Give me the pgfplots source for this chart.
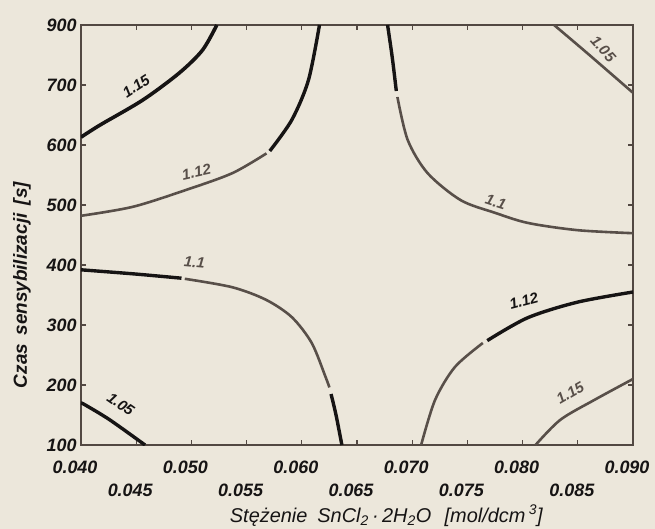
\documentclass[border=0pt]{standalone}
\usepackage{pgfplots}
\pgfplotsset{compat=1.18}
\usepackage{fontspec}
\setmainfont{Liberation Sans}
\definecolor{bg}{RGB}{236,231,219}
\definecolor{ln}{RGB}{88,79,73}
\definecolor{dk}{RGB}{22,20,20}
\definecolor{fr}{RGB}{82,72,66}
\begin{document}
\begin{tikzpicture}
\path[use as bounding box, fill=bg] (-81bp,-84bp) rectangle (574bp,445bp);
\begin{axis}[
  scale only axis, width=552bp, height=420bp,
  at={(0,0)}, anchor=south west,
  xmin=0.040, xmax=0.090, ymin=100, ymax=800,
  scaled x ticks=false, scaled y ticks=false,
  xtick={0.040,0.050,0.060,0.070,0.080,0.090},
  xticklabels={0.040,0.050,0.060,0.070,0.080,0.090},
  extra x ticks={0.045,0.055,0.065,0.075,0.085},
  extra x tick labels={0.045,0.055,0.065,0.075,0.085},
  extra x tick style={xticklabel style={yshift=-23bp}},
  ytick={100,200,300,400,500,600,700,800},
  yticklabels={100,200,300,400,500,600,700,900},
  tick align=inside, major tick length=5bp,
  tick style={fr, line width=1.2bp},
  axis line style={fr, line width=2.6bp},
  ticklabel style={font=\fontsize{18}{21}\selectfont\bfseries\itshape, text=dk},
  xticklabel style={yshift=-12bp, xshift=-6bp},
  yticklabel style={xshift=-1bp},
  xlabel={Stężenie\enspace SnCl\textsubscript{2}\,·\,2H\textsubscript{2}O\enspace\,[mol/dcm\,\textsuperscript{3}]},
  xlabel style={font=\fontsize{20}{23}\selectfont\itshape, text=dk, at={(axis description cs:0.553,-0.168)}, anchor=center},
  ylabel={Czas\, sensybilizacji\, [s]},
  ylabel style={font=\fontsize{19}{22}\selectfont\bfseries\itshape, text=dk, at={(axis description cs:-0.107,0.381)}, anchor=center},
  clip=true,
]
% 1.15 top-left
\addplot[dk, line width=3.6bp, smooth, tension=0.5] coordinates {(0.0400,613) (0.0417,633) (0.0456,675) (0.0489,720) (0.0510,758) (0.0523,800)};
% 1.12 top-left
\addplot[ln, line width=2.6bp, smooth, tension=0.5] coordinates {(0.0400,482) (0.0447,497) (0.0495,525) (0.0537,553) (0.0568,586)};
\addplot[dk, line width=3.4bp, smooth, tension=0.5] coordinates {(0.0571,590) (0.0591,642) (0.0606,708) (0.0616,800)};
% 1.1 top-right
\addplot[dk, line width=3.4bp, smooth, tension=0.5] coordinates {(0.06777,800) (0.0682,745) (0.06856,690)};
\addplot[ln, line width=2.6bp, smooth, tension=0.5] coordinates {(0.06866,680) (0.0696,608) (0.0714,553) (0.0744,508) (0.0775,487) (0.0805,470) (0.0850,458) (0.0900,453)};
% 1.05 top-right
\addplot[ln, line width=2.6bp, smooth, tension=0.5] coordinates {(0.08285,800) (0.08586,753) (0.0900,687)};
% 1.1 bottom-left
\addplot[dk, line width=3.4bp, smooth, tension=0.5] coordinates {(0.0400,392) (0.0449,385) (0.0491,378)};
\addplot[ln, line width=2.6bp, smooth, tension=0.5] coordinates {(0.0494,377) (0.05369,363) (0.05676,342) (0.0591,313) (0.0609,270) (0.06216,213) (0.0625,196)};
\addplot[dk, line width=3.4bp, smooth, tension=0.5] coordinates {(0.06265,185) (0.0631,150) (0.06363,100)};
% 1.05 bottom-left
\addplot[dk, line width=3.4bp, smooth, tension=0.5] coordinates {(0.0400,170) (0.04036,167) (0.0426,142) (0.0458,100)};
% 1.12 bottom-right
\addplot[ln, line width=2.6bp, smooth, tension=0.5] coordinates {(0.07081,100) (0.07207,175) (0.07387,230) (0.07640,270)};
\addplot[dk, line width=3.4bp, smooth, tension=0.5] coordinates {(0.07680,274) (0.08045,312) (0.08495,338) (0.0900,355)};
% 1.15 bottom-right
\addplot[ln, line width=2.6bp, smooth, tension=0.5] coordinates {(0.08117,100) (0.08342,142) (0.08649,175) (0.0900,210)};
% contour labels
\node[rotate=33, font=\fontsize{15}{17}\selectfont\bfseries\itshape, text=dk] at (axis cs:0.0450,698) {1.15};
\node[rotate=12, font=\fontsize{15}{17}\selectfont\bfseries\itshape, text=ln] at (axis cs:0.05045,555) {1.12};
\node[rotate=-18, font=\fontsize{15}{17}\selectfont\bfseries\itshape, text=ln] at (axis cs:0.07757,505) {1.1};
\node[rotate=-48, font=\fontsize{15}{17}\selectfont\bfseries\itshape, text=ln] at (axis cs:0.0873,760) {1.05};
\node[rotate=-5, font=\fontsize{15}{17}\selectfont\bfseries\itshape, text=ln] at (axis cs:0.05027,404) {1.1};
\node[rotate=-35, font=\fontsize{15}{17}\selectfont\bfseries\itshape, text=dk] at (axis cs:0.0436,168) {1.05};
\node[rotate=15, font=\fontsize{15}{17}\selectfont\bfseries\itshape, text=dk] at (axis cs:0.0801,340) {1.12};
\node[rotate=30, font=\fontsize{15}{17}\selectfont\bfseries\itshape, text=ln] at (axis cs:0.0843,187) {1.15};
\end{axis}
\end{tikzpicture}
\end{document}
